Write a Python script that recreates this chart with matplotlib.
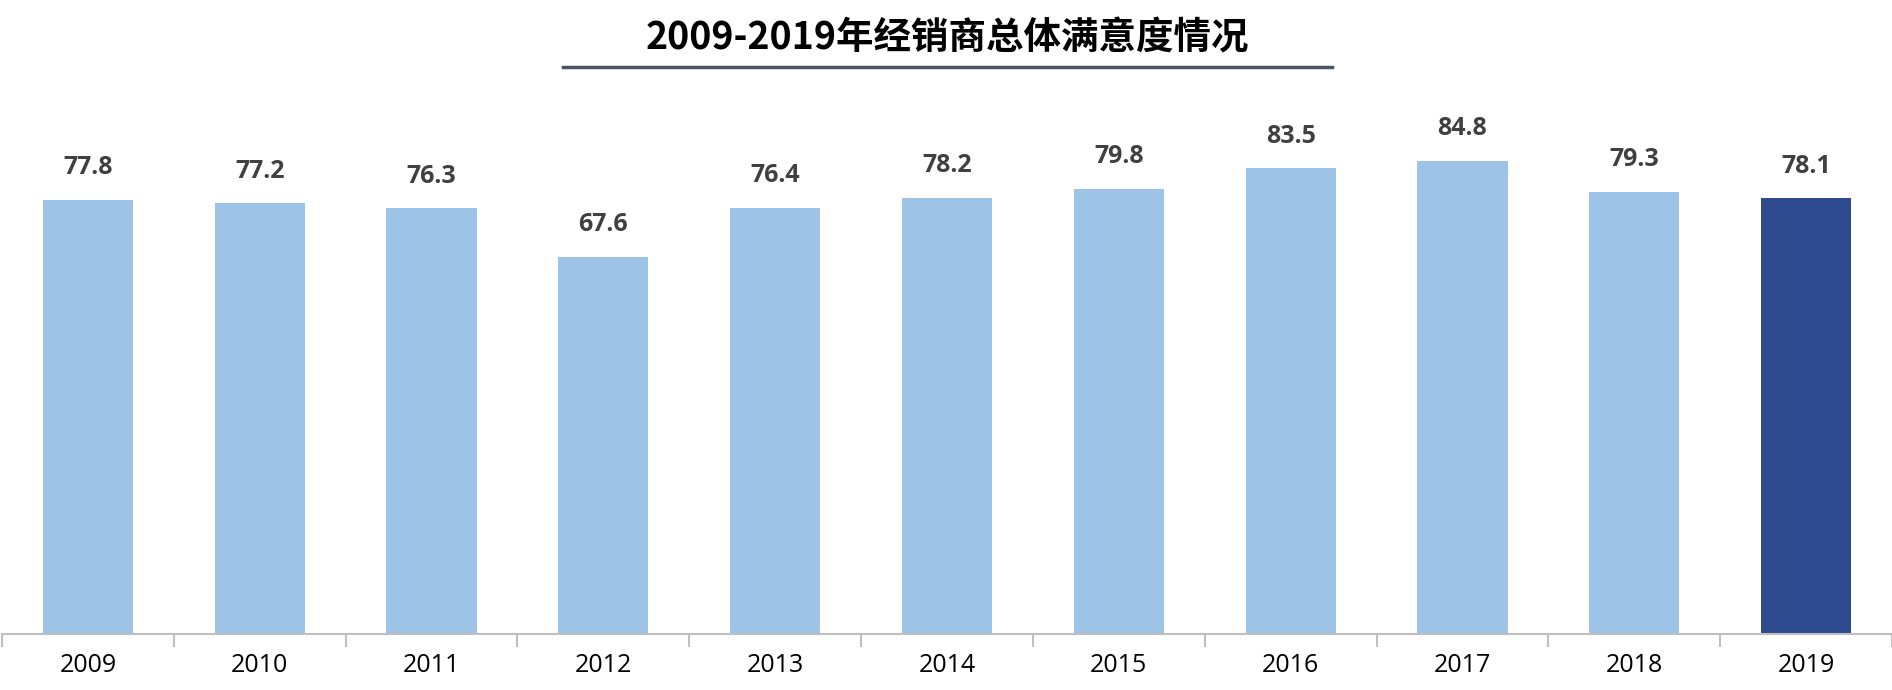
import numpy as np
import matplotlib.pyplot as plt
from matplotlib.lines import Line2D

plt.rcParams['font.family'] = ['Noto Sans CJK SC', 'DejaVu Sans']

years = ['2009', '2010', '2011', '2012', '2013', '2014', '2015', '2016', '2017', '2018', '2019']
scores = [77.8, 77.2, 76.3, 67.6, 76.4, 78.2, 79.8, 83.5, 84.8, 79.3, 78.1]
title = '2009-2019年经销商总体满意度情况'

light = '#9DC3E6'
dark = '#2E4A8E'
colors = [light] * (len(years) - 1) + [dark]

fig = plt.figure(figsize=(18.92, 6.9), dpi=100)
ax = fig.add_axes([2 / 1892, 56 / 690, 1 - 2 / 1892, 558 / 690])

x = np.arange(len(years))
bars = ax.bar(x, scores, width=0.525, color=colors)

# 数值标签
for rect, v in zip(bars, scores):
    ax.annotate(f'{v:.1f}', (rect.get_x() + rect.get_width() / 2, v),
                xytext=(0, 14), textcoords='offset points',
                ha='center', va='bottom', fontsize=18, fontweight='bold',
                color='#404040', family=['Open Sans', 'DejaVu Sans'])

ax.set_xlim(-0.5, len(years) - 0.5)
ax.set_ylim(0, 100)
ax.set_xticks(x)
ax.set_xticklabels(years, fontsize=18, family=['Open Sans', 'DejaVu Sans'])
ax.tick_params(axis='x', which='major', length=0, pad=14)
ax.set_xticks(np.arange(-0.5, len(years), 1), minor=True)
ax.tick_params(axis='x', which='minor', length=9, width=1.5, color='#BFBFBF')
ax.set_yticks([])
for s in ['top', 'right', 'left']:
    ax.spines[s].set_visible(False)
ax.spines['bottom'].set_color('#BFBFBF')
ax.spines['bottom'].set_linewidth(1.5)

# 标题及下划线
fig.text(947 / 1892, 1 - 38 / 690, title, ha='center', va='center',
         fontsize=27, fontweight='bold', color='black')
fig.add_artist(Line2D([563 / 1892, 1332 / 1892], [1 - 67 / 690, 1 - 67 / 690],
                      color='#4A5568', linewidth=2.5, transform=fig.transFigure))

fig.savefig('out.png', dpi=100)
